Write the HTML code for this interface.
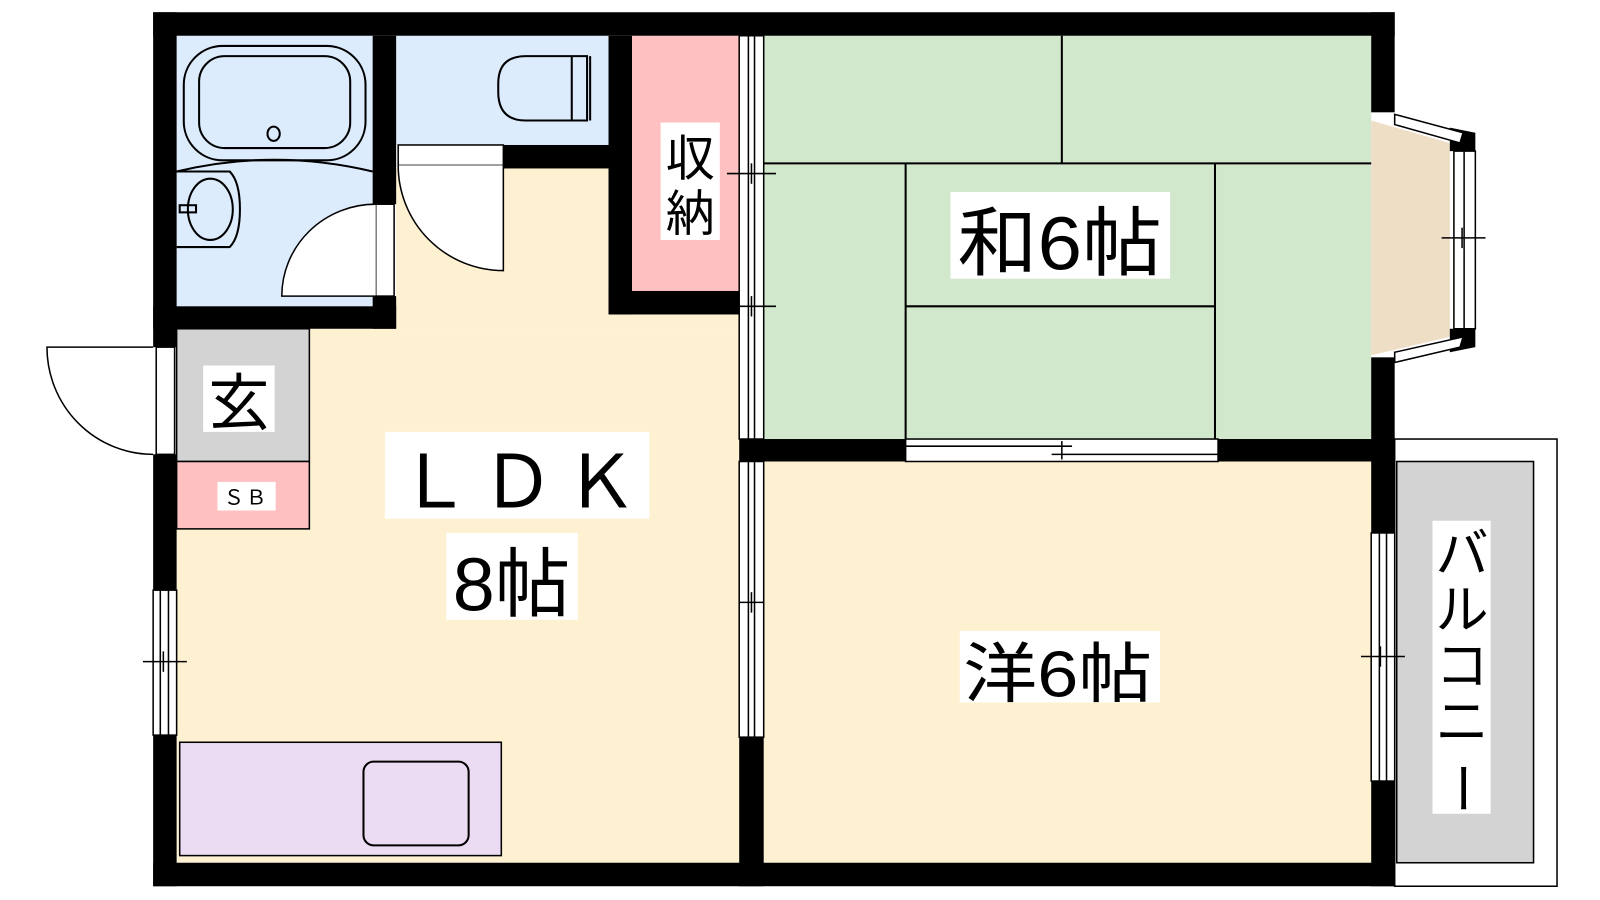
<!DOCTYPE html>
<html><head><meta charset="utf-8"><style>
html,body{margin:0;padding:0;background:#fff;width:1600px;height:900px;overflow:hidden}
svg{display:block}
text{font-family:"Liberation Sans","Noto Sans CJK JP",sans-serif;fill:#000}
</style></head><body>
<svg width="1600" height="900" viewBox="0 0 1600 900" xmlns="http://www.w3.org/2000/svg">
<g transform="scale(1.021)">
<!-- floors -->
<rect x="173" y="35" width="192" height="265" fill="#dcecfd"/>
<rect x="388" y="35" width="208" height="107" fill="#dcecfd"/>
<rect x="619" y="35" width="105" height="250" fill="#fec0c0"/>
<rect x="748" y="35" width="595" height="395" fill="#d2e8cc"/>
<rect x="748" y="452" width="595" height="393" fill="#fef1d2"/>
<polygon points="173,322 724,322 724,845 173,845" fill="#fef1d2"/>
<polygon points="388,165 596,165 596,300 724,300 724,322 388,322" fill="#fef1d2"/>
<rect x="173" y="322" width="130" height="130" fill="#d3d3d3" stroke="#000" stroke-width="1.5"/>
<rect x="173" y="452" width="130" height="66" fill="#fec0c0" stroke="#000" stroke-width="1.5"/>
<rect x="176" y="727" width="315" height="111" fill="#ecdcf3" stroke="#000" stroke-width="1.5"/>
<rect x="356" y="746" width="103" height="82" rx="10" fill="none" stroke="#000" stroke-width="2"/>
<!-- bay -->
<polygon points="1343,118 1420,140 1420,330 1343,348" fill="#efdec6"/>
<!-- balcony -->
<rect x="1366" y="430" width="159" height="438" fill="#fff" stroke="#000" stroke-width="1.5"/>
<rect x="1368" y="452" width="134" height="393" fill="#d3d3d3" stroke="#000" stroke-width="1.5"/>
<!-- tatami lines -->
<g stroke="#000" stroke-width="2" fill="none">
<line x1="748" y1="160" x2="1343" y2="160"/>
<line x1="1040" y1="35" x2="1040" y2="160"/>
<line x1="887" y1="160" x2="887" y2="430"/>
<line x1="1190" y1="160" x2="1190" y2="430"/>
<line x1="887" y1="300" x2="1190" y2="300"/>
</g>
<!-- bath fixtures -->
<g stroke="#000" stroke-width="2" fill="none">
<rect x="180" y="45" width="178" height="112" rx="38"/>
<rect x="195" y="55" width="148" height="90" rx="25"/>
<ellipse cx="268" cy="131" rx="6" ry="7"/>
<path d="M173,168 Q268,145 365,168"/>
<path d="M173,168 L225,168 Q235,178 235,205 Q235,232 225,242 L173,242"/>
<ellipse cx="206" cy="205" rx="22" ry="30"/>
<rect x="176" y="201" width="16" height="7"/>
<path d="M488,82 Q488,55 515,55 L575,55 L575,118 L515,118 Q488,118 488,90 Z"/>
<path d="M560,55 L560,118 M578,55 L578,118"/>
</g>
<!-- walls -->
<g fill="#000">
<rect x="150" y="12" width="1216" height="23"/>
<rect x="150" y="845" width="1216" height="23"/>
<rect x="150" y="12" width="23" height="328"/>
<rect x="150" y="445" width="23" height="133"/>
<rect x="150" y="720" width="23" height="148"/>
<rect x="150" y="300" width="238" height="22"/>
<rect x="365" y="35" width="23" height="165"/>
<rect x="365" y="290" width="23" height="32"/>
<rect x="493" y="142" width="126" height="23"/>
<rect x="596" y="35" width="23" height="273"/>
<rect x="596" y="285" width="128" height="23"/>
<rect x="724" y="430" width="163" height="22"/>
<rect x="1193" y="430" width="173" height="22"/>
<rect x="724" y="722" width="24" height="146"/>
<rect x="1343" y="12" width="23" height="98"/>
<rect x="1343" y="350" width="23" height="172"/>
<rect x="1343" y="765" width="23" height="103"/>
<polygon points="1420,125 1445,130 1445,148 1420,148"/>
<polygon points="1420,322 1445,322 1445,340 1420,345"/>
</g>
<!-- windows & doors -->
<g stroke="#000" stroke-width="1.5" fill="#fff">
<rect x="724" y="35" width="24" height="395"/>
<line x1="733" y1="35" x2="733" y2="430"/><line x1="739" y1="35" x2="739" y2="430"/>
<rect x="724" y="452" width="24" height="270"/>
<line x1="733" y1="452" x2="733" y2="722"/><line x1="739" y1="452" x2="739" y2="722"/>
<rect x="887" y="430" width="306" height="22"/>
<line x1="887" y1="437" x2="1050" y2="437"/><line x1="1030" y1="445" x2="1193" y2="445"/>
<rect x="1343" y="522" width="23" height="243"/>
<line x1="1351" y1="522" x2="1351" y2="765"/><line x1="1358" y1="522" x2="1358" y2="765"/>
<rect x="150" y="578" width="23" height="142"/>
<line x1="157" y1="578" x2="157" y2="720"/><line x1="165" y1="578" x2="165" y2="720"/>
<rect x="1424" y="148" width="21" height="174"/>
<line x1="1434" y1="148" x2="1434" y2="322"/>
<polygon points="1366,112 1433,130 1430,140 1366,122"/>
<polygon points="1366,345 1433,330 1430,340 1366,355"/>
<rect x="153" y="340" width="18" height="105"/>
<path d="M150,340 L46,340 A104,105 0 0 0 150,445" />
<rect x="368" y="200" width="18" height="90"/>
<path d="M368,200 A92,90 0 0 0 276,290 L368,290"/>
<rect x="390" y="142" width="103" height="20"/>
<path d="M493,162 L493,265 A103,103 0 0 1 390,162"/>
</g>
<g stroke="#000" stroke-width="1.5">
<line x1="712" y1="170" x2="760" y2="170"/><line x1="736" y1="160" x2="736" y2="180"/>
<line x1="712" y1="300" x2="760" y2="300"/><line x1="736" y1="290" x2="736" y2="310"/>
<line x1="724" y1="590" x2="748" y2="590"/><line x1="736" y1="580" x2="736" y2="600"/>
<line x1="1040" y1="432" x2="1040" y2="450"/>
<line x1="1333" y1="643" x2="1376" y2="643"/><line x1="1352" y1="633" x2="1352" y2="653"/>
<line x1="1412" y1="233" x2="1455" y2="233"/><line x1="1432" y1="223" x2="1432" y2="243"/>
<line x1="140" y1="648" x2="183" y2="648"/><line x1="160" y1="638" x2="160" y2="658"/>
</g>
<!-- labels -->
<g fill="#fff">
<rect x="647" y="120" width="58" height="115"/>
<rect x="931" y="188" width="215" height="85"/>
<rect x="940" y="618" width="196" height="70"/>
<rect x="377" y="423" width="259" height="85"/>
<rect x="437" y="522" width="129" height="85"/>
<rect x="199" y="358" width="70" height="65"/>
<rect x="213" y="472" width="57" height="28"/>
<rect x="1403" y="510" width="57" height="287"/>
</g>
<text x="676" y="172" font-size="48" text-anchor="middle">収</text>
<text x="676" y="226" font-size="48" text-anchor="middle">納</text>
<text x="1038" y="264" font-size="74" text-anchor="middle" textLength="200" lengthAdjust="spacingAndGlyphs">和6帖</text>
<text x="1036" y="682" font-size="64" text-anchor="middle" textLength="185" lengthAdjust="spacingAndGlyphs">洋6帖</text>
<text x="507" y="497" font-size="72" text-anchor="middle" textLength="235" lengthAdjust="spacing">ＬＤＫ</text>
<text x="501" y="598" font-size="74" text-anchor="middle">8帖</text>
<text x="234" y="416" font-size="60" text-anchor="middle">玄</text>
<text x="241" y="494" font-size="20" text-anchor="middle" letter-spacing="2">ＳＢ</text>
<g font-size="52" text-anchor="middle">
<text x="1432" y="560">バ</text>
<text x="1432" y="615">ル</text>
<text x="1432" y="670">コ</text>
<text x="1432" y="725">ニ</text>
<text x="1432" y="790" transform="rotate(90 1432 772)">ー</text>
</g>
</g>
</svg>
</body></html>
